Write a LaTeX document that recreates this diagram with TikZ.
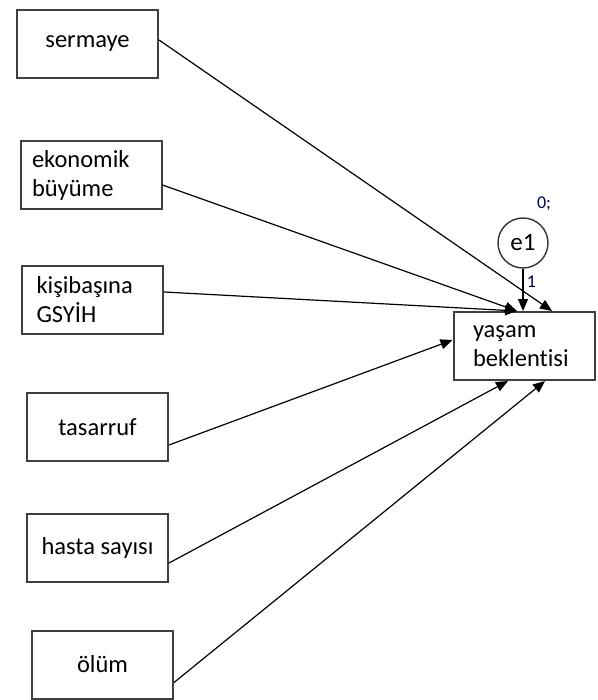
\documentclass[tikz,border=0pt]{standalone}
\usepackage{fontspec}
\setmainfont{Carlito}[RawFeature=-liga]
\usepackage{tikz}
\usetikzlibrary{arrows.meta}

\begin{document}
\begin{tikzpicture}[x=1pt,y=-1pt,->,>={Triangle[length=12pt,width=10pt]},line width=1.2pt,
  var node/.style={rectangle,draw=black!75,line width=2pt,minimum width=141pt,minimum height=68pt,inner sep=0pt,font=\fontsize{24.5}{29}\selectfont},
  left node/.style={var node,align=left,text width=118pt},
  err node/.style={circle,draw=black!80,line width=1.4pt,minimum size=50pt,inner sep=0pt,font=\fontsize{25}{30}\selectfont},
  small/.style={font=\fontsize{18}{21}\selectfont,text=black!70!blue}]

  \useasboundingbox (0,0) rectangle (597,700);

  \node[var node] (sermaye) at (87.5,44) {sermaye};
  \node[left node] (ekonomik) at (91,175) {ekonomik\\büyüme};
  \node[left node,text width=112pt] (kisibasina) at (92.5,300) {kişibaşına\\GSYİH};
  \node[var node] (tasarruf) at (97.5,427) {tasarruf};
  \node[var node] (hasta) at (97.5,548) {hasta sayısı};
  \node[var node] (olum) at (102.5,664.5) {ölüm};

  \node[left node,text width=102pt] (yasam) at (524,346) {yaşam\\beklentisi};
  \node[err node] (e1) at (523,243) {e1};
  \node[small] (varyans) at (544,204) {0;};

  \path (e1) edge node[small,right,pos=0.3] {1} (yasam.north -| e1);

  \path
    ([yshift=4pt]sermaye.east) edge ([xshift=28pt]yasam.north)
    ([yshift=-10pt]ekonomik.east) edge ([xshift=-7pt]yasam.north)
    ([yshift=8pt]kisibasina.east) edge ([xshift=-7pt]yasam.north)
    ([yshift=-18pt]tasarruf.east) edge ([yshift=6pt]yasam.west)
    ([yshift=-15pt]hasta.east) edge ([xshift=-16pt]yasam.south)
    ([yshift=-18pt]olum.east) edge ([xshift=21pt]yasam.south);

\end{tikzpicture}
\end{document}
